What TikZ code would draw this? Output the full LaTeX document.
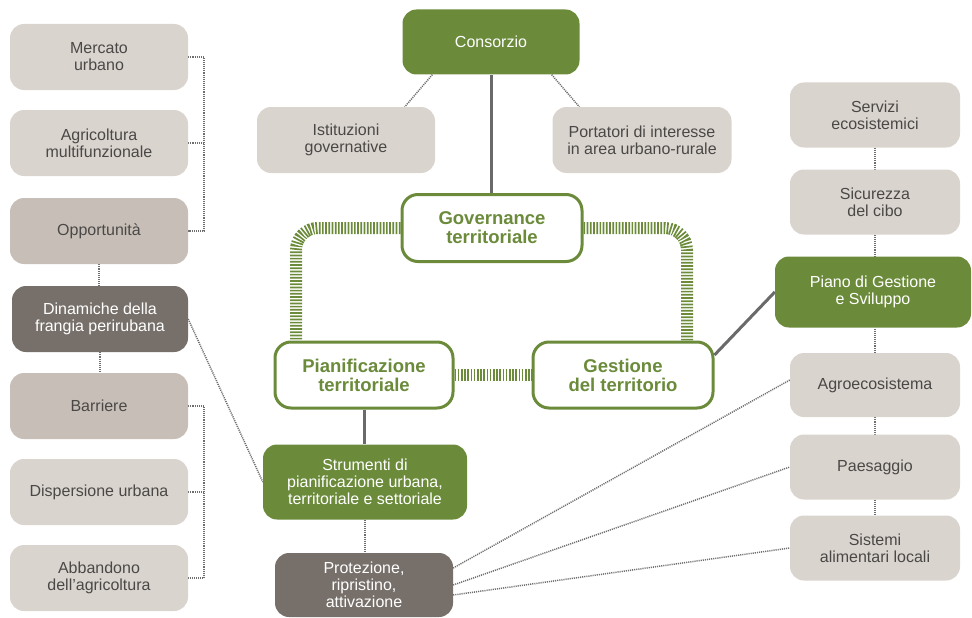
\documentclass[tikz,border=0pt]{standalone}
\usepackage{fontspec}
\setmainfont{Liberation Sans}
\usetikzlibrary{backgrounds}
\definecolor{grn}{HTML}{6B8B3B}
\definecolor{lbeige}{HTML}{DAD4CE}
\definecolor{mbeige}{HTML}{C7BFB7}
\definecolor{dgray}{HTML}{77706A}
\definecolor{txt}{HTML}{4A4846}
\definecolor{lngray}{HTML}{6E6E6E}
\definecolor{solgray}{HTML}{6A6A6A}
\tikzset{
  box/.style={rectangle, rounded corners=14pt, minimum width=178pt, minimum height=66pt,
    align=center, inner sep=0pt, font=\fontsize{16}{17}\selectfont, text=txt},
  lt/.style={box, fill=lbeige},
  md/.style={box, fill=mbeige},
  dk/.style={box, fill=dgray, text=white},
  gr/.style={box, fill=grn, text=white},
  ol/.style={box, draw=grn, line width=3pt, fill=white, text=grn, rounded corners=16pt,
    font=\bfseries\fontsize{18.5}{19}\selectfont},
  dotln/.style={draw=lngray, line width=1.5pt, dash pattern=on 1.1pt off 1pt},
  solln/.style={draw=solgray, line width=3pt},
  hatch/.style={draw=grn, line width=12pt, dash pattern=on 1.7pt off 1.5pt}
}
\begin{document}
\begin{tikzpicture}[x=1pt,y=-1pt]
\useasboundingbox (0,0) rectangle (972,618);
% left column
\node[lt] (merc) at (99,57) {Mercato\\urbano};
\node[lt] (agri) at (99,143) {Agricoltura\\multifunzionale};
\node[md] (opp) at (99,231) {Opportunità};
\node[dk, minimum width=176pt] (dina) at (100,319) {Dinamiche della\\frangia perirubana};
\node[md] (barr) at (99,406) {Barriere};
\node[lt] (disp) at (99,492) {Dispersione urbana};
\node[lt] (abb) at (99,578) {Abbandono\\dell'agricoltura};
% centre
\node[gr, minimum width=177pt, minimum height=65pt] (cons) at (491,42) {Consorzio};
\node[lt] (ist) at (346,140) {Istituzioni\\governative};
\node[lt, minimum width=179pt] (port) at (642,140) {Portatori di interesse\\in area urbano-rurale};
\node[ol, minimum width=180pt, minimum height=67pt] (gov) at (492,228) {Governance\\territoriale};
\node[ol] (pian) at (364,375) {Pianificazione\\territoriale};
\node[ol, minimum width=180pt] (gest) at (623,375) {Gestione\\del territorio};
\node[gr, minimum width=204pt, minimum height=75pt] (strum) at (365,482) {Strumenti di\\pianificazione urbana,\\territoriale e settoriale};
\node[dk, minimum height=64pt] (prot) at (364,585) {Protezione,\\ripristino,\\attivazione};
% right column
\node[lt, minimum width=170pt, minimum height=65pt] (serv) at (875,115) {Servizi\\ecosistemici};
\node[lt, minimum width=170pt, minimum height=65pt] (sic) at (875,202) {Sicurezza\\del cibo};
\node[gr, minimum width=196pt, minimum height=71pt] (piano) at (873,292) {Piano di Gestione\\e Sviluppo};
\node[lt, minimum width=170pt, minimum height=64pt] (agro) at (875,385) {Agroecosistema};
\node[lt, minimum width=170pt, minimum height=65pt] (paes) at (875,467) {Paesaggio};
\node[lt, minimum width=170pt, minimum height=65pt] (sist) at (875,548) {Sistemi\\alimentari locali};

\begin{scope}[on background layer]
% brackets left
\draw[dotln] (merc.east) -- ++(16,0) |- (opp.east);
\draw[dotln] (agri.east) -- ++(16,0);
\draw[dotln] (barr.east) -- ++(16,0) |- (abb.east);
\draw[dotln] (disp.east) -- ++(16,0);
\draw[dotln] (opp.south) -- (opp.south |- dina.north);
\draw[dotln] (dina.south) -- (dina.south |- barr.north);
\draw[dotln] (dina.east) -- (strum.west);
% consorzio
\draw[dotln] ([xshift=30pt]cons.south west) -- ([xshift=148pt]ist.north west);
\draw[dotln] ([xshift=-28pt]cons.south east) -- ([xshift=27pt]port.north west);
\draw[solln] (cons.south) -- (cons.south |- gov.north);
% hatched
\draw[hatch, rounded corners=22pt] (gov.west) -| ([xshift=-68pt]pian.north);
\draw[hatch, rounded corners=22pt] (gov.east) -| ([xshift=64pt]gest.north);
\draw[hatch] (pian.east) -- (gest.west);
% lower centre
\draw[solln] (pian.south) -- (pian.south |- strum.north);
\draw[dotln] (strum.south) -- (strum.south |- prot.north);
\draw[solln] ([yshift=20pt]gest.east) -- (piano.west);
% right column
\draw[dotln] (serv.south) -- (sic.north);
\draw[dotln] (sic.south) -- (sic.south |- piano.north);
\draw[dotln] (agro.north) -- (agro.north |- piano.south);
\draw[dotln] (agro.south) -- (paes.north);
\draw[dotln] (paes.south) -- (sist.north);
% protezione fan
\draw[dotln] ([yshift=17pt]prot.east) -- ([yshift=5pt]agro.west);
\draw[dotln] (prot.east) -- (paes.west);
\draw[dotln] ([yshift=-10pt]prot.east) -- (sist.west);
\end{scope}
\end{tikzpicture}
\end{document}
